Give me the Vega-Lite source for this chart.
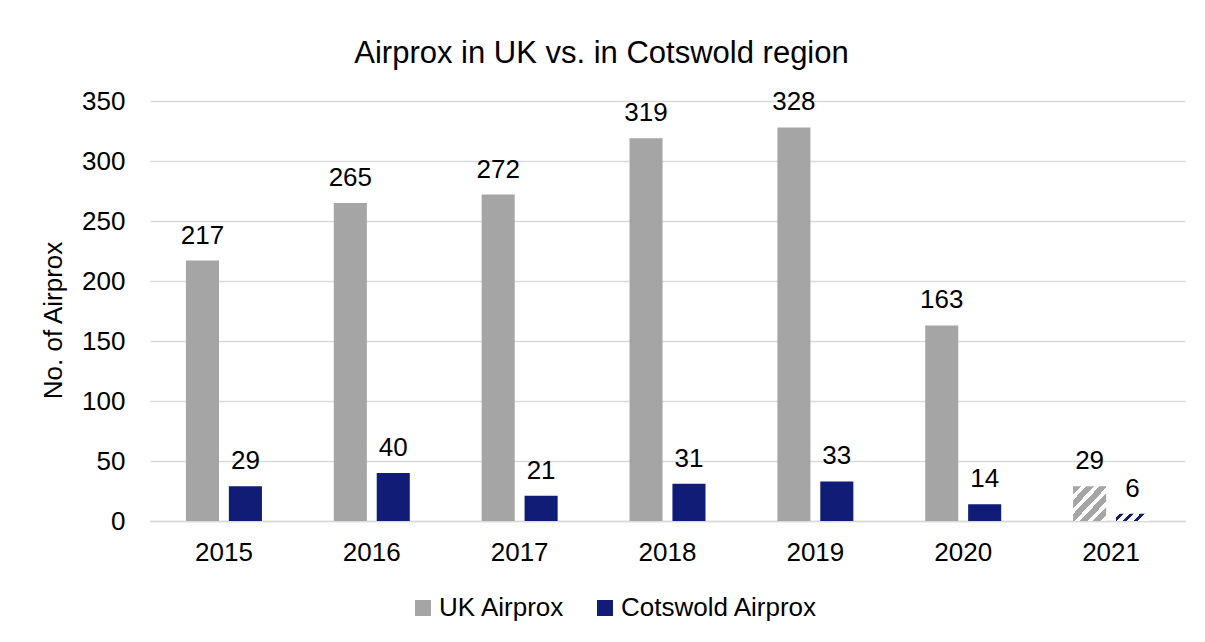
{
  "$schema": "https://vega.github.io/schema/vega-lite/v6.json",
  "autosize": "none",
  "width": 1035,
  "height": 420,
  "padding": {"left": 150, "top": 101, "right": 20, "bottom": 121},
  "background": "white",
  "config": {
    "font": "Liberation Sans",
    "view": {"stroke": null},
    "axis": {"labelFont": "Liberation Sans", "titleFont": "Liberation Sans", "labelColor": "#000000", "titleColor": "#000000"}
  },
  "title": {
    "text": "Airprox in UK vs. in Cotswold region",
    "fontSize": 31,
    "font": "Liberation Sans",
    "fontWeight": "normal",
    "color": "#000000",
    "anchor": "middle",
    "dx": -66,
    "offset": 18
  },
  "data": {
    "values": [
      {"year": "2015", "series": "UK Airprox", "value": 217},
      {"year": "2015", "series": "Cotswold Airprox", "value": 29},
      {"year": "2016", "series": "UK Airprox", "value": 265},
      {"year": "2016", "series": "Cotswold Airprox", "value": 40},
      {"year": "2017", "series": "UK Airprox", "value": 272},
      {"year": "2017", "series": "Cotswold Airprox", "value": 21},
      {"year": "2018", "series": "UK Airprox", "value": 319},
      {"year": "2018", "series": "Cotswold Airprox", "value": 31},
      {"year": "2019", "series": "UK Airprox", "value": 328},
      {"year": "2019", "series": "Cotswold Airprox", "value": 33},
      {"year": "2020", "series": "UK Airprox", "value": 163},
      {"year": "2020", "series": "Cotswold Airprox", "value": 14},
      {"year": "2021", "series": "UK Airprox", "value": 29},
      {"year": "2021", "series": "Cotswold Airprox", "value": 6}
    ]
  },
  "encoding": {
    "x": {
      "field": "year", "type": "nominal",
      "scale": {"paddingInner": 0.486, "paddingOuter": 0.243},
      "axis": {"title": null, "labelAngle": 0, "labelFontSize": 26, "labelPadding": 18, "ticks": false, "domainColor": "#d9d9d9", "domainWidth": 1.5}
    },
    "xOffset": {
      "field": "series", "type": "nominal",
      "sort": ["UK Airprox", "Cotswold Airprox"],
      "scale": {"domain": ["UK Airprox", "Cotswold Airprox"], "paddingInner": 0.23}
    },
    "y": {
      "field": "value", "type": "quantitative",
      "scale": {"domain": [0, 350]},
      "axis": {"title": "No. of Airprox", "titleFontSize": 26, "titleFontWeight": "normal", "titlePadding": 15, "titleY": 219, "labelFontSize": 26, "labelPadding": 25, "values": [0, 50, 100, 150, 200, 250, 300, 350], "ticks": false, "domain": false, "gridColor": "#d9d9d9", "gridWidth": 1.5}
    }
  },
  "layer": [
    {
      "mark": {"type": "bar"},
      "encoding": {
        "fill": {
          "condition": [
            {
              "test": "datum.year == '2021' && datum.series == 'UK Airprox'",
              "value": {
                "gradient": "linear", "x1": 0, "y1": 0, "x2": 1, "y2": 1,
                "stops": [
                  {"offset": 0, "color": "#a5a5a5"}, {"offset": 0.12, "color": "#a5a5a5"},
                  {"offset": 0.12, "color": "#ffffff"}, {"offset": 0.2, "color": "#ffffff"},
                  {"offset": 0.2, "color": "#a5a5a5"}, {"offset": 0.32, "color": "#a5a5a5"},
                  {"offset": 0.32, "color": "#ffffff"}, {"offset": 0.4, "color": "#ffffff"},
                  {"offset": 0.4, "color": "#a5a5a5"}, {"offset": 0.52, "color": "#a5a5a5"},
                  {"offset": 0.52, "color": "#ffffff"}, {"offset": 0.6, "color": "#ffffff"},
                  {"offset": 0.6, "color": "#a5a5a5"}, {"offset": 0.72, "color": "#a5a5a5"},
                  {"offset": 0.72, "color": "#ffffff"}, {"offset": 0.8, "color": "#ffffff"},
                  {"offset": 0.8, "color": "#a5a5a5"}, {"offset": 0.92, "color": "#a5a5a5"},
                  {"offset": 0.92, "color": "#ffffff"}, {"offset": 1, "color": "#ffffff"}
                ]
              }
            },
            {
              "test": "datum.year == '2021' && datum.series == 'Cotswold Airprox'",
              "value": {
                "gradient": "linear", "x1": 0, "y1": 0, "x2": 1, "y2": 0.21,
                "stops": [
                  {"offset": 0, "color": "#ffffff"}, {"offset": 0.1, "color": "#ffffff"},
                  {"offset": 0.1, "color": "#101c75"}, {"offset": 0.22, "color": "#101c75"},
                  {"offset": 0.22, "color": "#ffffff"}, {"offset": 0.4, "color": "#ffffff"},
                  {"offset": 0.4, "color": "#101c75"}, {"offset": 0.52, "color": "#101c75"},
                  {"offset": 0.52, "color": "#ffffff"}, {"offset": 0.7, "color": "#ffffff"},
                  {"offset": 0.7, "color": "#101c75"}, {"offset": 0.82, "color": "#101c75"},
                  {"offset": 0.82, "color": "#ffffff"}, {"offset": 1, "color": "#ffffff"}
                ]
              }
            }
          ],
          "field": "series", "type": "nominal",
          "scale": {"domain": ["UK Airprox", "Cotswold Airprox"], "range": ["#a5a5a5", "#101c75"]},
          "legend": {
            "title": null, "orient": "none", "direction": "horizontal",
            "legendX": 260, "legendY": 494,
            "symbolType": "square", "symbolSize": 256, "symbolStrokeWidth": 0,
            "labelFontSize": 26, "labelFont": "Liberation Sans", "labelColor": "#000000",
            "labelOffset": 3, "columnPadding": 27, "labelLimit": 400
          }
        }
      }
    },
    {
      "mark": {"type": "text", "fontSize": 26, "font": "Liberation Sans", "color": "#000000", "baseline": "middle", "dy": -25},
      "encoding": {
        "text": {"field": "value", "type": "quantitative"}
      }
    }
  ]
}
